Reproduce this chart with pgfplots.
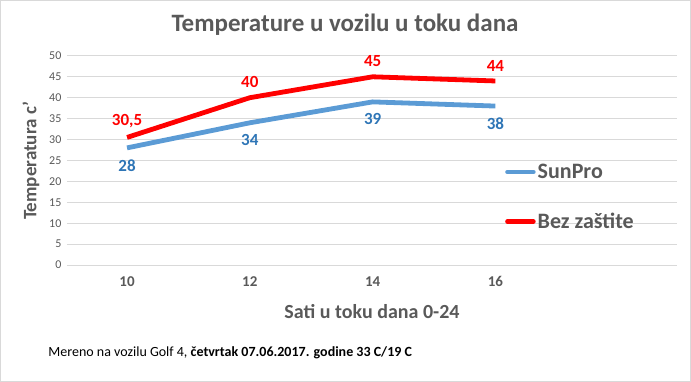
\documentclass[border=0pt]{standalone}
\usepackage{pgfplots}
\pgfplotsset{compat=1.18}
\usepackage{fontspec}
\setmainfont{Carlito}
\definecolor{txtgray}{HTML}{595959}
\definecolor{gridgray}{HTML}{D9D9D9}
\definecolor{sunblue}{HTML}{5B9BD5}
\definecolor{labblue}{HTML}{2E75B6}
\definecolor{bezred}{HTML}{FF0000}
\begin{document}
\begin{tikzpicture}
\draw[draw=gridgray, line width=0.75pt] (0.5pt,0.5pt) rectangle (690.5pt,381.5pt);
\node[text=txtgray, font=\fontsize{25}{28}\selectfont\bfseries] at (345pt,357pt) {Temperature u vozilu u toku dana};
\node[anchor=west, font=\fontsize{14}{16}\selectfont] at (45pt,29pt) {Mereno na vozilu Golf 4, \textbf{četvrtak 07.06.2017. godine 33 C/19 C}};
\node[text=txtgray, font=\fontsize{19}{22}\selectfont\bfseries, rotate=90] at (31pt,221pt) {Temperatura c'};
\node[text=txtgray, font=\fontsize{20}{23}\selectfont\bfseries] at (372pt,70pt) {Sati u toku dana 0-24};
\begin{axis}[
  at={(67pt,117pt)}, anchor=south west,
  scale only axis, width=610pt, height=209pt,
  xmin=-0.49, xmax=4.48, ymin=0, ymax=50,
  xtick={0,1,2,3}, xticklabels={10,12,14,16},
  ytick={0,5,...,50},
  /pgf/number format/assume math mode=true,
  axis line style={draw=none},
  major tick length=0pt,
  ymajorgrids, grid style={draw=gridgray, line width=0.9pt},
  tick label style={text=txtgray},
  yticklabel style={font=\fontsize{12}{14}\selectfont, xshift=-2pt},
  xticklabel style={font=\fontsize{15}{17}\selectfont\bfseries, yshift=-8pt},
  legend style={draw=none, fill=none, at={(axis description cs:0.713,0.325)}, anchor=west,
    font=\fontsize{22}{25}\selectfont\bfseries, text=txtgray, row sep=29pt},
  legend cell align=left,
  legend image code/.code={\draw[#1, line width=4.5pt, line cap=round] (0pt,0pt) -- (26pt,0pt);},
  point meta=explicit symbolic,
  nodes near coords,
  clip=false,
]
\addplot[sunblue, line width=4.8pt, line join=round, no marks,
  nodes near coords style={anchor=north, yshift=-6pt, text=labblue, font=\fontsize{17}{20}\selectfont\bfseries}]
  coordinates {(0,28) [28] (1,34) [34] (2,39) [39] (3,38) [38]};
\addlegendentry{SunPro}
\addplot[bezred, line width=4.8pt, line join=round, no marks,
  nodes near coords style={anchor=south, yshift=4pt, text=bezred, font=\fontsize{17}{20}\selectfont\bfseries}]
  coordinates {(0,30.5) [{30,5}] (1,40) [40] (2,45) [45] (3,44) [44]};
\addlegendentry{Bez zaštite}
\end{axis}
\end{tikzpicture}
\end{document}
